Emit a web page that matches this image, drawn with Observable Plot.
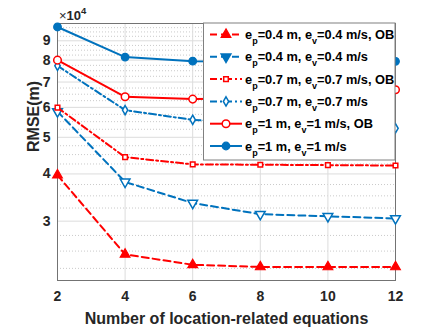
<!DOCTYPE html>
<html>
<head>
<meta charset="utf-8">
<script src="https://cdn.jsdelivr.net/npm/d3@7"></script>
<script src="https://cdn.jsdelivr.net/npm/@observablehq/plot@0.6"></script>
<style>
  html, body { margin: 0; padding: 0; background: #fff; }
  #chart { position: relative; width: 436px; height: 327px; }
  #chart svg { display: block; }
  #overlay { position: absolute; left: 0; top: 0; pointer-events: none; }
</style>
</head>
<body>
<div id="chart"></div>
<script>
// x: number of location-related equations
const xValues = [2, 4, 6, 8, 10, 12];
// y values in units of 10^4 m
const ep04OB = [3.97, 2.45, 2.30, 2.27, 2.27, 2.27];
const ep04   = [5.85, 3.81, 3.35, 3.13, 3.09, 3.05];
const ep07OB = [5.99, 4.43, 4.24, 4.23, 4.22, 4.21];
const ep07   = [7.73, 5.90, 5.56, 5.45, 5.36, 5.28];
const ep1OB  = [8.00, 6.40, 6.31, 6.33, 6.46, 6.68];
const ep1    = [9.79, 8.15, 7.95, 7.92, 7.90, 7.94];

const yTickValues = [3, 4, 5, 6, 7, 8, 9];
const yMinorValues = [2.25, 2.5, 2.75, 3.25, 3.5, 3.75, 4.25, 4.5, 4.75, 5.25, 5.5, 5.75,
  6.25, 6.5, 6.75, 7.25, 7.5, 7.75, 8.25, 8.5, 8.75, 9.25, 9.5, 9.75];

const legendSub1 = ["0.4 m", "0.4 m", "0.7 m", "0.7 m", "1 m", "1 m"];
const legendSub2 = ["0.4 m/s, OB", "0.4 m/s", "0.7 m/s, OB", "0.7 m/s", "1 m/s, OB", "1 m/s"];

const RED = "#FF0000", BLUE = "#0072BD";
const series = [
  {vals: ep04OB, color: RED,  dash: "7,4",     symbol: "triangle", r: 3.6, fill: RED,   rotate: 0,   sw: 1.2},
  {vals: ep04,   color: BLUE, dash: "7,4",     symbol: "triangle", r: 3.6, fill: "#fff", rotate: 180, sw: 1.5},
  {vals: ep07OB, color: RED,  dash: "7,3,2,3", symbol: "square",   r: 2.6, fill: "#fff", rotate: 0,   sw: 1.5},
  {vals: ep07,   color: BLUE, dash: "7,3,2,3", symbol: "diamond",  r: 2.8, fill: "#fff", rotate: 0,   sw: 1.5},
  {vals: ep1OB,  color: RED,  dash: null,      symbol: "circle",   r: 3.8, fill: "#fff", rotate: 0,   sw: 1.5},
  {vals: ep1,    color: BLUE, dash: null,      symbol: "circle",   r: 3.8, fill: BLUE,  rotate: 0,   sw: 1.2}
];
series.forEach(s => { s.rows = xValues.map((x, i) => ({x, y: s.vals[i]})); });

const FONT = "'Liberation Sans', Arial, Helvetica, sans-serif";

const marks = [
  Plot.ruleY(yMinorValues, {stroke: "#bdbdbd", strokeDasharray: "1,2", strokeWidth: 0.8}),
  Plot.gridY({ticks: yTickValues, stroke: "#dcdcdc", strokeOpacity: 1, strokeWidth: 1}),
  Plot.gridX({ticks: xValues, stroke: "#dcdcdc", strokeOpacity: 1, strokeWidth: 1}),
  Plot.axisX({ticks: xValues, tickSize: 0, tickPadding: 11, fontSize: 14, fontWeight: "bold", fill: "#262626", label: null}),
  Plot.axisY({ticks: yTickValues, tickSize: 0, tickPadding: 7, fontSize: 14, fontWeight: "bold", fill: "#262626", label: null, tickFormat: d => String(d)}),
  Plot.frame({stroke: "#737373", strokeWidth: 1})
];
series.forEach(s => {
  marks.push(Plot.line(s.rows, {x: "x", y: "y", stroke: s.color, strokeWidth: 2, strokeDasharray: s.dash || undefined}));
  marks.push(Plot.dot(s.rows, {x: "x", y: "y", symbol: s.symbol, r: s.r, fill: s.fill, stroke: s.color, strokeWidth: s.sw, rotate: s.rotate}));
});
marks.push(Plot.text(["Number of location-related equations"], {frameAnchor: "bottom", dy: 43, text: d => d, fontSize: 16, fontWeight: "bold", fill: "#262626", lineAnchor: "bottom"}));
marks.push(Plot.text(["RMSE(m)"], {frameAnchor: "left", dx: -24, rotate: -90, text: d => d, fontSize: 16, fontWeight: "bold", fill: "#262626"}));

const svg = Plot.plot({
  width: 436,
  height: 327,
  marginLeft: 57,
  marginRight: 41,
  marginTop: 23,
  marginBottom: 47,
  style: {fontFamily: FONT, background: "#fff", overflow: "visible"},
  x: {domain: [2, 12]},
  y: {type: "log", domain: [2.09, 10]},
  marks
});
const chart = document.getElementById("chart");
chart.appendChild(svg);

// exponent label and legend overlay (separate SVG stacked on top)
const ov = d3.select(chart).append("svg").attr("id", "overlay")
  .attr("width", 436).attr("height", 327)
  .style("font-family", FONT);

const ex = ov.append("text").attr("x", 59).attr("y", 19.5).attr("text-anchor", "start")
  .attr("font-size", 13).attr("fill", "#262626");
ex.append("tspan").text("×");
ex.append("tspan").attr("font-weight", "bold").text("10");
ex.append("tspan").attr("font-weight", "bold").attr("font-size", 9.5).attr("dy", -6).text("4");

const lg = ov.append("g");
lg.append("rect").attr("x", 203.5).attr("y", 23).attr("width", 191.5).attr("height", 137)
  .attr("fill", "#ffffff").attr("stroke", "#808080").attr("stroke-width", 1);
const symTypes = {triangle: d3.symbolTriangle, square: d3.symbolSquare, diamond: d3.symbolDiamond, circle: d3.symbolCircle};
series.forEach((s, k) => {
  const yc = 34.5 + k * 22.3;
  lg.append("line").attr("x1", 210).attr("x2", 242).attr("y1", yc).attr("y2", yc)
    .attr("stroke", s.color).attr("stroke-width", 2)
    .attr("stroke-dasharray", s.dash ? s.dash : null);
  lg.append("path").attr("d", d3.symbol(symTypes[s.symbol], Math.PI * s.r * s.r)())
    .attr("transform", `translate(226,${yc}) rotate(${s.rotate})`)
    .attr("fill", (k === 1) ? s.color : s.fill).attr("stroke", s.color).attr("stroke-width", s.sw);
  const t = lg.append("text").attr("x", 245).attr("y", yc + 4.5).attr("text-anchor", "start")
    .attr("font-size", 12.8).attr("font-weight", "bold").attr("fill", "#000");
  t.append("tspan").text("e");
  t.append("tspan").attr("font-size", 9).attr("dy", 5).text("p");
  t.append("tspan").attr("dy", -5).text("=" + legendSub1[k] + ", e");
  t.append("tspan").attr("font-size", 9).attr("dy", 5).text("v");
  t.append("tspan").attr("dy", -5).text("=" + legendSub2[k]);
});
</script>
</body>
</html>
